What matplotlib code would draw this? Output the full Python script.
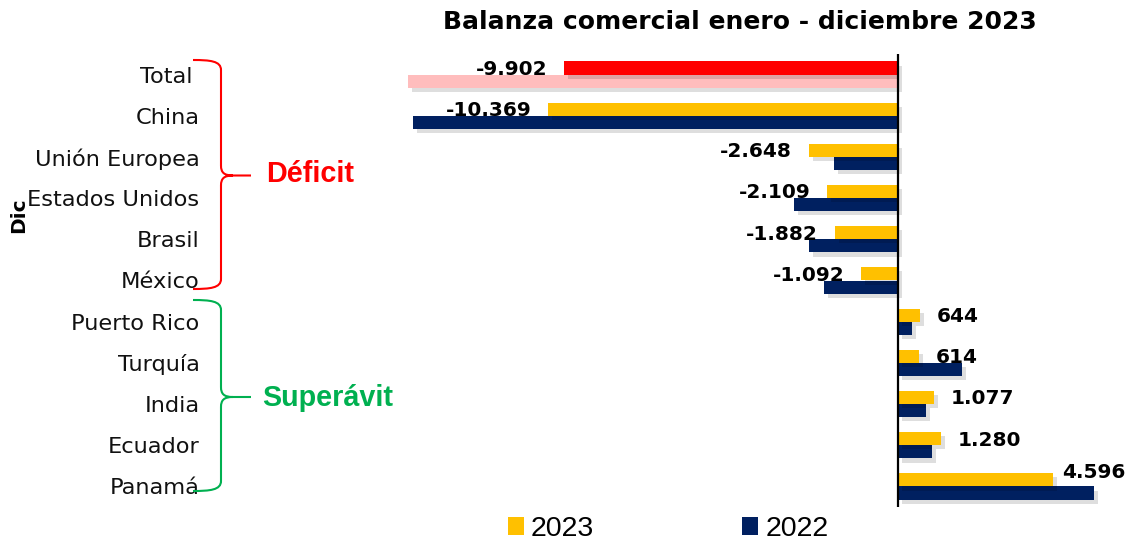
import matplotlib
matplotlib.use("Agg")
import matplotlib.pyplot as plt
import numpy as np
from matplotlib.path import Path
from matplotlib.patches import PathPatch, Patch
import matplotlib.patheffects as pe

categories = ["Total ", "China", "Unión Europea", "Estados Unidos", "Brasil", "México",
              "Puerto Rico", "Turquía", "India", "Ecuador", "Panamá"]
values_2023 = [-9902, -10369, -2648, -2109, -1882, -1092, 644, 614, 1077, 1280, 4596]
values_2022 = [-14530, -14380, -1890, -3075, -2650, -2200, 415, 1900, 830, 1000, 5800]
series_names = ["2023", "2022"]
title = "Balanza comercial enero - diciembre 2023"

C23 = "#FFC000"
C22 = "#002060"
C23_TOTAL = "#FF0000"
C22_TOTAL = "#FFBDBD"

W, H = 1125, 542
fig = plt.figure(figsize=(W / 100, H / 100), dpi=100)

ax_l, ax_r, ax_t, ax_b = 205, 1110, 54, 507
ax = fig.add_axes([ax_l / W, 1 - ax_b / H, (ax_r - ax_l) / W, (ax_b - ax_t) / H])

zero_px = 898
upp = 9902 / 334.0
ax.set_xlim((ax_l - zero_px) * upp, (ax_r - zero_px) * upp)

n = len(categories)
y = np.arange(n)
bh = 0.32
cols23 = [C23_TOTAL if i == 0 else C23 for i in range(n)]
cols22 = [C22_TOTAL if i == 0 else C22 for i in range(n)]
shadow = [pe.SimplePatchShadow(offset=(3, -3), shadow_rgbFace="black", alpha=0.13), pe.Normal()]

b23 = ax.barh(y - bh / 2, values_2023, height=bh, color=cols23, zorder=3)
b22 = ax.barh(y + bh / 2, values_2022, height=bh, color=cols22, zorder=2)
for p in list(b23) + list(b22):
    p.set_path_effects(shadow)

ax.set_ylim(n - 0.5, -0.5)
ax.axvline(0, color="black", lw=1.6, zorder=5)
ax.set_yticks(y)
ax.set_yticklabels(categories, fontsize=16.2, family="DejaVu Sans", color="#111111")
ax.tick_params(axis="y", length=0, pad=4)
ax.tick_params(axis="x", bottom=False, labelbottom=False)
for s in ax.spines.values():
    s.set_visible(False)

def fmt(v):
    return f"{v:,}".replace(",", ".")

for i, v in enumerate(values_2023):
    yy = i - bh / 2
    if v < 0:
        ax.annotate(fmt(v), (v, yy), xytext=(-12, -1), textcoords="offset points",
                    ha="right", va="center", fontsize=14.5, fontweight="bold", zorder=6)
    else:
        dx, dy = 12, -1
        if i == n - 1:
            dx, dy = 6.5, 5
        ax.annotate(fmt(v), (v, yy), xytext=(dx, dy), textcoords="offset points",
                    ha="left", va="center", fontsize=14.5, fontweight="bold", zorder=6)

fig.text(740 / W, 1 - 22 / H, title, ha="center", va="center", fontsize=18, fontweight="bold")
fig.text(19 / W, 1 - 215 / H, "Dic", rotation=90, ha="center", va="center", fontsize=14.5, fontweight="bold")

# overlay for braces in pixel coordinates
ov = fig.add_axes([0, 0, 1, 1], facecolor="none")
ov.set_xlim(0, W)
ov.set_ylim(H, 0)
ov.axis("off")

def brace(top, tip, bottom, color):
    x0, xv, xt = 193, 221, 251
    verts = [(x0, top), (210, top), (xv, top + 1), (xv, top + 10),
             (xv, tip - 10),
             (xv, tip - 3), (224, tip), (233, tip),
             (xt, tip),
             (233, tip), (224, tip), (xv, tip + 3), (xv, tip + 10),
             (xv, bottom - 10),
             (xv, bottom - 1), (210, bottom), (x0, bottom)]
    codes = [Path.MOVETO, Path.CURVE4, Path.CURVE4, Path.CURVE4,
             Path.LINETO,
             Path.CURVE4, Path.CURVE4, Path.CURVE4,
             Path.LINETO,
             Path.MOVETO, Path.CURVE4, Path.CURVE4, Path.CURVE4,
             Path.LINETO,
             Path.CURVE4, Path.CURVE4, Path.CURVE4]
    ov.add_patch(PathPatch(Path(verts, codes), fill=False, edgecolor=color, lw=1.5))

brace(60, 175.5, 289, "#FF0000")
brace(300, 397, 491, "#00B050")
ov.text(266, 174, "Déficit", color="#FF0000", fontsize=20.7, fontweight="bold",
        family="Liberation Sans", ha="left", va="center")
ov.text(262, 398, "Superávit", color="#00B050", fontsize=20.7, fontweight="bold",
        family="Liberation Sans", ha="left", va="center")

handles = [Patch(facecolor=C23, edgecolor="none"), Patch(facecolor=C22, edgecolor="none")]
fig.legend(handles=handles, labels=series_names, loc="center", bbox_to_anchor=(668 / W, 1 - 529 / H),
           ncol=2, frameon=False, prop={"family": "Liberation Sans", "size": 20.5},
           handlelength=0.56, handleheight=0.56, handletextpad=0.25, columnspacing=5.2,
           borderaxespad=0, borderpad=0)

fig.savefig("out.png", dpi=100)
